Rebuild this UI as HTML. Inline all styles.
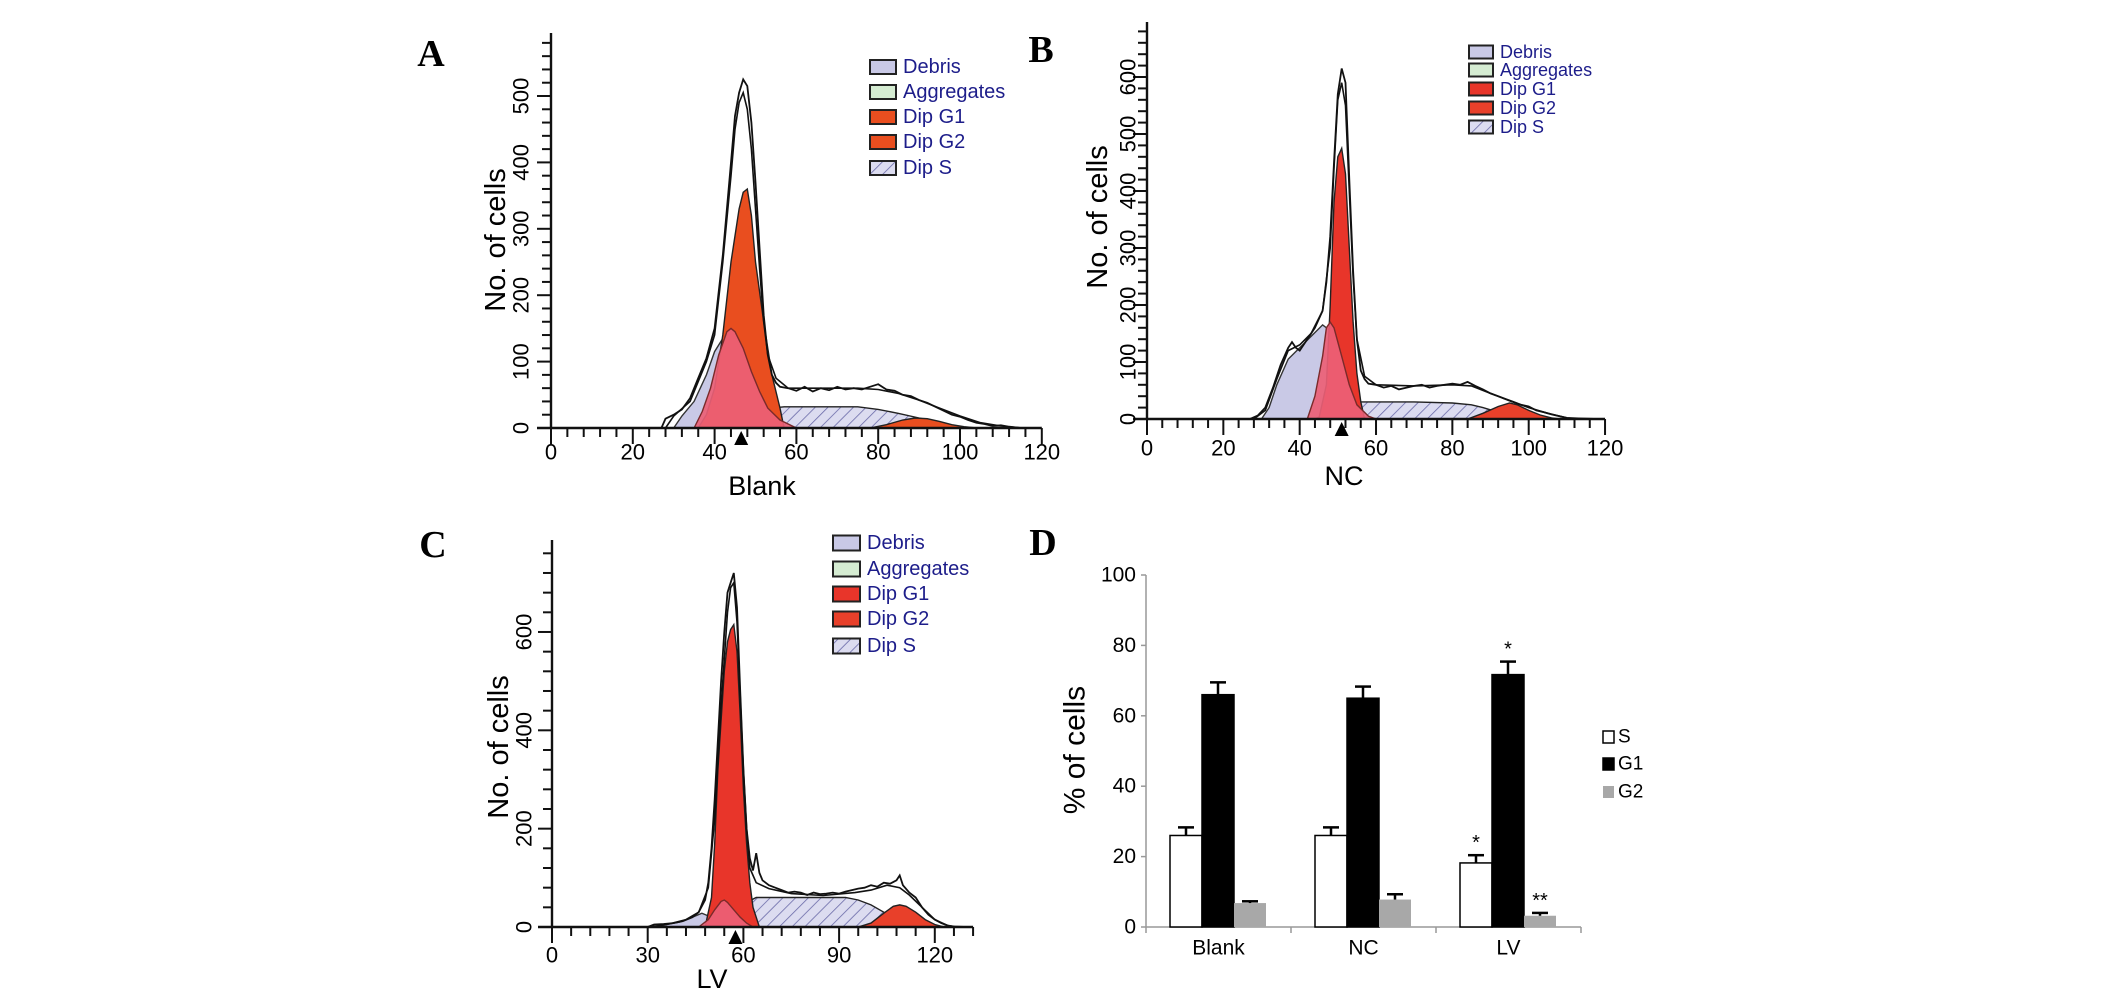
<!DOCTYPE html>
<html><head><meta charset="utf-8">
<style>
html,body{margin:0;padding:0;background:#fff;}
svg{display:block;font-family:"Liberation Sans",sans-serif;}
</style></head>
<body>
<svg id="fig" width="2126" height="989" viewBox="0 0 2126 989" xmlns="http://www.w3.org/2000/svg">
<defs>
<pattern id="hatch" patternUnits="userSpaceOnUse" width="9" height="9" patternTransform="rotate(45)">
<rect width="9" height="9" fill="#dcdcf0"/>
<line x1="0" y1="0" x2="0" y2="9" stroke="#6a6aa8" stroke-width="1.6"/>
</pattern>
</defs>
</svg>
<script>
// ---------- Panel A data (x = channel, y = count) ----------
const aTotal=[[27,0],[28,14],[30,20],[32,28],[34,45],[36,75],[38,105],[40,150],[42,260],[44,400],[45,470],[46,505],[47,525],[48,515],[49,460],[50,370],[51,270],[52,170],[53,110],[54,80],[55,68],[56,62],[58,60],[60,56],[62,62],[64,55],[66,60],[68,57],[70,62],[72,58],[74,60],[76,58],[78,62],[80,66],[82,58],[84,56],[86,50],[88,48],[90,42],[92,38],[94,32],[96,26],[98,20],[100,17],[102,12],[104,8],[106,6],[108,3],[110,4],[112,2],[115,0]];
const aFit=[[28,0],[30,18],[34,40],[38,100],[40,140],[42,250],[44,380],[45,450],[46,490],[47,505],[48,480],[49,420],[50,330],[51,240],[52,160],[53,110],[55,75],[58,60],[65,60],[75,60],[80,58],[85,52],[90,42],[95,30],[100,18],[105,8],[110,3],[115,0]];
const aDebris=[[30,0],[32,18],[35,40],[38,80],[40,115],[42,135],[44,140],[46,110],[48,70],[50,40],[52,20],[55,5],[57,0]];
const aPink=[[35,0],[37,25],[39,60],[41,110],[43,145],[44,150],[45,145],[47,120],[49,85],[51,55],[53,30],[56,12],[60,0]];
const aG1=[[36,0],[38,20],[40,60],[42,140],[44,250],[46,330],[47,355],[48,360],[49,320],[50,250],[52,160],[54,80],[56,30],[57,0]];
const aS=[[43,0],[46,8],[50,20],[54,30],[57,32],[65,32],[75,32],[80,28],[85,22],[90,15],[95,8],[100,2],[102,0]];
const aG2=[[78,0],[82,5],[86,12],[89,15],[92,14],[95,10],[98,5],[101,2],[104,0]];
const aYTicks=[0,100,200,300,400,500];
const aXTicks=[0,20,40,60,80,100,120];
// ---------- Panel B data ----------
const bTotal=[[27,0],[29,6],[31,20],[33,55],[35,95],[37,125],[38,135],[39,125],[40,120],[42,140],[44,160],[46,190],[47,240],[48,320],[49,450],[50,570],[51,615],[52,590],[53,420],[54,260],[55,140],[56,85],[57,70],[58,62],[60,60],[62,55],[64,58],[66,52],[68,55],[70,58],[72,60],[74,55],[76,58],[78,60],[80,62],[82,60],[84,65],[86,58],[88,52],[90,45],[92,40],[94,35],[96,30],[98,25],[100,22],[102,15],[104,12],[106,8],[108,5],[110,2],[113,1],[118,0]];
const bFit=[[28,0],[31,15],[34,70],[37,120],[40,130],[43,150],[46,190],[48,300],[49,440],[50,560],[51,590],[52,550],[53,400],[54,250],[55,140],[57,75],[60,60],[70,58],[80,60],[85,58],[90,45],[95,32],[100,20],[105,10],[110,2],[113,0]];
const bDebris=[[30,0],[32,20],[34,60],[37,105],[40,125],[43,145],[46,165],[48,155],[50,100],[52,50],[55,15],[58,0]];
const bPink=[[42,0],[44,40],[46,110],[47,160],[48,170],[49,160],[51,110],[53,60],[55,25],[58,5],[60,0]];
const bG1=[[45,0],[47,60],[48,200],[49,380],[50,460],[51,475],[52,430],[53,300],[54,170],[55,80],[56,30],[57,0]];
const bS=[[44,0],[48,12],[52,24],[56,30],[60,30],[70,30],[80,28],[85,25],[88,20],[92,12],[96,5],[100,0]];
const bG2=[[84,0],[88,10],[92,22],[95,28],[97,25],[100,15],[103,7],[106,2],[108,0]];
const bYTicks=[0,100,200,300,400,500,600];
const bXTicks=[0,20,40,60,80,100,120];
// ---------- Panel C data ----------
const cTotal=[[30,0],[32,5],[35,6],[38,8],[41,12],[44,20],[46,30],[48,55],[49,90],[50,160],[51,260],[52,380],[53,500],[54,600],[55,680],[56,700],[57,720],[58,650],[59,480],[60,320],[61,200],[62,140],[63,115],[64,150],[65,110],[66,95],[68,85],[70,80],[72,75],[74,70],[76,72],[78,70],[80,65],[82,70],[84,67],[86,68],[88,70],[90,68],[92,72],[94,75],[96,78],[98,80],[100,85],[102,82],[104,90],[106,88],[108,95],[109,105],[110,85],[112,70],[114,60],[115,50],[116,40],[118,25],[120,15],[122,8],[124,3],[126,1],[130,0]];
const cFit=[[31,0],[36,5],[42,15],[46,30],[49,80],[51,220],[53,450],[55,640],[56,690],[57,700],[58,620],[59,470],[60,320],[61,200],[62,120],[64,90],[68,78],[75,68],[85,64],[95,70],[100,75],[105,85],[109,80],[112,65],[116,40],[120,15],[124,3],[127,0]];
const cDebris=[[30,0],[35,4],[40,10],[44,20],[47,28],[50,20],[53,8],[56,0]];
const cPink=[[46,0],[49,15],[51,35],[53,52],[54,55],[55,50],[57,35],[59,20],[61,8],[63,0]];
const cG1=[[48,0],[50,60],[51,170],[52,320],[54,520],[55,580],[56,605],[57,615],[58,560],[59,430],[60,280],[61,170],[62,90],[63,40],[65,0]];
const cS=[[50,0],[54,15],[58,35],[61,50],[64,60],[75,60],[85,60],[92,60],[96,55],[100,45],[104,30],[108,15],[112,4],[114,0]];
const cG2=[[96,0],[100,8],[104,28],[107,42],[109,45],[111,42],[114,30],[117,15],[120,5],[123,0]];
const cYTicks=[0,200,400,600];
const cXTicks=[0,30,60,90,120];
// ---------- Panel D data ----------
const dGroups=["Blank","NC","LV"];
const dSeries=["S","G1","G2"];
const dS=[26,26,18.2];
const dG1=[66,65,71.7];
const dG2=[6.8,7.8,3.2];
const dSErr=[2.3,2.3,2.2];
const dG1Err=[3.5,3.3,3.7];
const dG2Err=[0.5,1.5,0.8];
const dSStar=["","","*"];
const dG1Star=["","","*"];
const dG2Star=["","","**"];
const dYTicks=[0,20,40,60,80,100];
const legendItems=["Debris","Aggregates","Dip G1","Dip G2","Dip S"];

const NS="http://www.w3.org/2000/svg";
const svg=document.getElementById('fig');
function el(tag,attrs,parent){const e=document.createElementNS(NS,tag);for(const k in attrs)e.setAttribute(k,attrs[k]);(parent||svg).appendChild(e);return e;}
function txt(s,attrs,parent){const t=el('text',attrs,parent);t.textContent=s;return t;}

function histPanel(p){
  const g=el('g',{});
  
  
  const X=v=>p.x0+v*p.xu, Y=v=>p.y0-v*p.yu;
  const pathOf=(arr,close)=>{let d='';arr.forEach((q,i)=>{d+=(i?'L':'M')+X(q[0]).toFixed(1)+' '+Y(q[1]).toFixed(1);});return d+(close?'Z':'');};
  const layers=[[p.debris,'#c9c9e6','#333','debris'],[p.s,'url(#hatch)','#222','dip-s'],[p.g2,p.g2c,'#222','dip-g2'],[p.g1,p.g1c,'#222','dip-g1'],[p.pink,'rgba(236,96,118,0.92)','#7a2a2a','dip-g1-overlap']];
  layers.forEach(L=>{
    const e=el('path',{d:pathOf(L[0],true),fill:L[1],stroke:L[2],'stroke-width':1.4},g);
    
    
  });
  const l1=el('path',{d:pathOf(p.total,false),fill:'none',stroke:'#111','stroke-width':1.8},g);
  
  
  const l2=el('path',{d:pathOf(p.fit,false),fill:'none',stroke:'#111','stroke-width':1.6},g);
  
  
  const ax=el('g',{stroke:'#111','stroke-width':2.4},g);
  
  
  el('line',{x1:p.x0,y1:p.y0,x2:p.x0,y2:p.yTop},ax);
  el('line',{x1:p.x0-14,y1:p.y0,x2:X(p.xEnd),y2:p.y0},ax);
  for(let v=0;Y(v)>=p.yTop;v+=p.yMinor){const maj=p.yTicks.includes(v);el('line',{x1:p.x0-(maj?14:9),y1:Y(v),x2:p.x0,y2:Y(v),'stroke-width':2},ax);}
  for(let v=0;v<=p.xEnd+0.01;v+=p.xMinor){const maj=p.xTicks.includes(v);el('line',{x1:X(v),y1:p.y0,x2:X(v),y2:p.y0+(maj?16:9),'stroke-width':2},ax);}
  p.yTicks.forEach(v=>{const t=txt(String(v),{x:p.yLab,y:Y(v),'font-size':22,'text-anchor':'middle','dominant-baseline':'central',transform:`rotate(-90 ${p.yLab} ${Y(v)})`},g);
    
    });
  p.xTicks.forEach(v=>{const t=txt(String(v),{x:X(v),y:p.xLab,'font-size':22,'text-anchor':'middle','dominant-baseline':'central'},g);
    
    });
  const yt=txt('No. of cells',{x:p.yTitleX,y:p.yTitleY,'font-size':29,'text-anchor':'middle','dominant-baseline':'central',transform:`rotate(-90 ${p.yTitleX} ${p.yTitleY})`},g);
  
  
  const xt=txt(p.xTitle,{x:p.xTitleX,y:p.xTitleY,'font-size':27,'text-anchor':'middle','dominant-baseline':'central'},g);
  
  
  const tm=X(p.marker);
  const tri=el('path',{d:`M${tm-7} ${p.y0+17}L${tm+7} ${p.y0+17}L${tm} ${p.y0+3}Z`,fill:'#000'},g);
  
  
  const lg=el('g',{},g);
  
  
  const fills=['#c9c9e6','#d5ecd2',p.g1c,p.g2c,'url(#hatch)'];
  legendItems.forEach((s,i)=>{
    const yy=p.legY[i];
    el('rect',{x:p.legX,y:yy-p.legH/2,width:p.legW,height:p.legH,fill:fills[i],stroke:'#222','stroke-width':2},lg);
    const t=txt(s,{x:p.legX+p.legW+7,y:yy,'font-size':p.legF,fill:'#1d1d8a','dominant-baseline':'central'},lg);
    
    
  });
  const pl=txt(p.letter,{x:p.letX,y:p.letY,'font-size':38,'font-weight':'bold','font-family':'"Liberation Serif",serif','text-anchor':'middle','dominant-baseline':'central'},g);
  
  
}

histPanel({name:'panel-a',letter:'A',letX:431,letY:54,x0:551,xu:4.09,y0:428,yu:0.664,yTop:33,xEnd:120,xMinor:4,yMinor:20,
  yTicks:aYTicks,xTicks:aXTicks,yLab:521,xLab:452,yTitleX:496,yTitleY:240,xTitle:'Blank',xTitleX:762,xTitleY:486,marker:46.5,
  total:aTotal,fit:aFit,debris:aDebris,pink:aPink,g1:aG1,s:aS,g2:aG2,g1c:'#e94e1f',g2c:'#e94e1f',
  legX:870,legW:26,legH:14,legF:20,legY:[67,92,117,142,168]});
histPanel({name:'panel-b',letter:'B',letX:1041,letY:50,x0:1147,xu:3.817,y0:419,yu:0.57,yTop:22,xEnd:120,xMinor:4,yMinor:20,
  yTicks:bYTicks,xTicks:bXTicks,yLab:1128,xLab:448,yTitleX:1098,yTitleY:217,xTitle:'NC',xTitleX:1344,xTitleY:476,marker:51,
  total:bTotal,fit:bFit,debris:bDebris,pink:bPink,g1:bG1,s:bS,g2:bG2,g1c:'#e8352a',g2c:'#e8402a',
  legX:1469,legW:24,legH:13,legF:18,legY:[52,70,89,108,127]});
histPanel({name:'panel-c',letter:'C',letX:433,letY:545,x0:552,xu:3.19,y0:927,yu:0.4917,yTop:540,xEnd:132,xMinor:6,yMinor:40,
  yTicks:cYTicks,xTicks:cXTicks,yLab:524,xLab:955,yTitleX:499,yTitleY:747,xTitle:'LV',xTitleX:712,xTitleY:979,marker:57.5,
  total:cTotal,fit:cFit,debris:cDebris,pink:cPink,g1:cG1,s:cS,g2:cG2,g1c:'#e8352a',g2c:'#e8402a',
  legX:833,legW:27,legH:15,legF:20,legY:[543,569,594,619,646]});

(function(){
  const g=el('g',{});
  
  
  const x0=1146,xEnd=1581,y0=927,yu=3.52;
  const Y=v=>y0-v*yu;
  const gw=(xEnd-x0)/dGroups.length, bw=32, off=24;
  el('line',{x1:x0,y1:y0,x2:x0,y2:Y(100),stroke:'#999','stroke-width':1.5},g);
  el('line',{x1:x0,y1:y0,x2:xEnd,y2:y0,stroke:'#999','stroke-width':1.5},g);
  dYTicks.forEach(v=>{
    el('line',{x1:x0-5,y1:Y(v),x2:x0,y2:Y(v),stroke:'#999','stroke-width':1.5},g);
    const t=txt(String(v),{x:x0-10,y:Y(v),'font-size':21,'text-anchor':'end','dominant-baseline':'central'},g);
    
    
  });
  for(let i=0;i<=dGroups.length;i++) el('line',{x1:x0+i*gw,y1:y0,x2:x0+i*gw,y2:y0+6,stroke:'#999','stroke-width':1.5},g);
  const series=[[dS,dSErr,dSStar,'#fff'],[dG1,dG1Err,dG1Star,'#000'],[dG2,dG2Err,dG2Star,'#a8a8a8']];
  dGroups.forEach((name,i)=>{
    series.forEach((s,j)=>{
      const bx=x0+i*gw+off+j*bw, v=s[0][i], e=s[1][i];
      const r=el('rect',{x:bx,y:Y(v),width:bw,height:v*yu,fill:s[3],stroke:j===2?'none':'#000','stroke-width':1.5},g);
      
      
      const cx=bx+bw/2;
      el('line',{x1:cx,y1:Y(v),x2:cx,y2:Y(v+e),stroke:'#000','stroke-width':2.5},g);
      el('line',{x1:cx-8,y1:Y(v+e),x2:cx+8,y2:Y(v+e),stroke:'#000','stroke-width':2.5},g);
      if(s[2][i]){const t=txt(s[2][i],{x:cx,y:Y(v+e)-12,'font-size':20,'text-anchor':'middle','dominant-baseline':'central'},g);
        
        }
    });
    const t=txt(name,{x:x0+i*gw+gw/2,y:948,'font-size':21,'text-anchor':'middle','dominant-baseline':'central'},g);
    
    
  });
  const yt=txt('% of cells',{x:1075,y:750,'font-size':30,'text-anchor':'middle','dominant-baseline':'central',transform:'rotate(-90 1075 750)'},g);
  
  
  const lf=['#fff','#000','#a8a8a8'], ly=[737,764,792];
  dSeries.forEach((s,j)=>{
    el('rect',{x:1603,y:ly[j]-6,width:11,height:12,fill:lf[j],stroke:j===2?'none':'#000','stroke-width':1.5},g);
    const t=txt(s,{x:1618,y:ly[j],'font-size':19,'dominant-baseline':'central'},g);
    
    
  });
  const pl=txt('D',{x:1043,y:543,'font-size':38,'font-weight':'bold','font-family':'"Liberation Serif",serif','text-anchor':'middle','dominant-baseline':'central'},g);
  
  
})();
</script>
</body></html>
